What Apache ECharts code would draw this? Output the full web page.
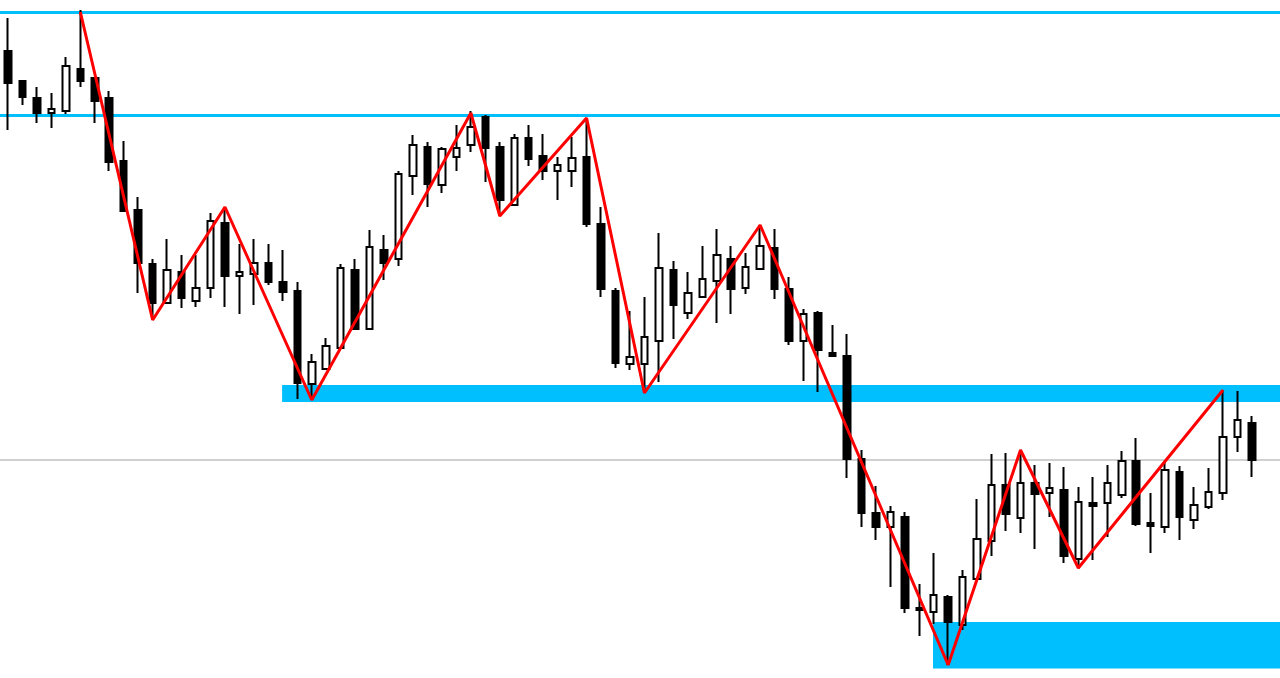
<!DOCTYPE html>
<html>
<head>
<meta charset="utf-8">
<script src="https://cdn.jsdelivr.net/npm/echarts@6/dist/echarts.min.js"></script>
<style>html,body{margin:0;padding:0;background:#fff;}#chart{width:1280px;height:678px;}</style>
</head>
<body>
<div id="chart"></div>
<script>
// Candle values (price units), one entry per bar
const openP  = [627,597,580,565,567,609,600,580,517,468,414,375,406,377,390,455,402,404,415,396,387,294,309,330,408,349,428,419,502,531,493,521,533,561,531,473,540,522,507,507,521,454,387,314,314,337,408,365,381,397,419,390,409,430,389,337,365,325,322,219,165,151,161,70,66,81,53,99,137,193,160,195,185,188,119,175,175,183,217,155,151,206,158,171,185,241,255];
const closeP = [595,581,565,569,612,597,577,516,467,415,375,408,380,390,457,402,406,415,396,386,295,316,332,410,349,431,415,504,533,494,529,530,551,530,478,540,519,507,513,520,454,389,315,321,341,410,373,385,399,423,389,411,432,389,337,364,328,322,219,165,151,166,70,68,83,56,101,139,193,164,195,184,190,122,176,172,195,217,154,152,208,161,173,186,241,258,218];
const lowP   = [548,573,555,550,564,591,555,507,467,385,358,375,370,371,380,371,364,373,393,377,279,278,309,330,349,349,398,412,483,471,485,507,526,496,465,473,512,498,478,491,451,381,310,308,286,296,339,359,381,355,364,384,409,379,333,297,286,321,200,151,138,91,65,42,54,13,48,99,122,147,145,129,161,115,111,118,141,180,152,125,145,138,149,169,178,226,201];
const highP  = [660,597,591,585,621,668,600,587,537,481,419,439,423,423,465,468,434,439,434,428,396,324,340,414,419,448,443,507,543,536,531,553,567,563,536,544,553,544,521,541,560,471,390,367,381,445,417,406,432,449,432,425,453,449,401,369,367,353,344,228,192,172,166,94,125,83,108,179,224,225,228,213,215,211,191,201,213,227,240,185,215,212,191,210,288,287,262];

// Zigzag swing points: [bar index, price]
const zigIndex = [5,10,15,21,32,34,40,44,52,65,70,74,84];
const zigPrice = [666,358,471,278,565,462,560,285,453,13,228,110,288];

// Horizontal levels and zones (price units)
const resistanceLevels = [665.5, 562.5];
const midLevel = 218.5;
const zones = [
  {start: 18.95, top: 293, bottom: 276},
  {start: 63.95, top: 56, bottom: 9.5}
];

const X_MIN = -0.553, X_MAX = 87.94;

const candleData = openP.map((o, i) => [i, o, closeP[i], lowP[i], highP[i]]);
const zigData = zigIndex.map((x, i) => [x, zigPrice[i]]);

const chart = echarts.init(document.getElementById('chart'));
chart.setOption({
  animation: false,
  backgroundColor: '#ffffff',
  grid: {left: 0, right: 0, top: 0, bottom: 0},
  xAxis: {type: 'value', min: X_MIN, max: X_MAX, show: false},
  yAxis: {type: 'value', min: 0, max: 678, show: false},
  series: [
    {
      type: 'candlestick',
      z: 2,
      data: candleData,
      encode: {x: 0, y: [1, 2, 3, 4]},
      barWidth: 7,
      itemStyle: {
        color: '#ffffff', color0: '#000000',
        borderColor: '#000000', borderColor0: '#000000',
        borderWidth: 2
      },
      markArea: {
        silent: true,
        z: 1,
        itemStyle: {color: '#00BFFF', opacity: 1},
        data: zones.map(z => [{xAxis: z.start, yAxis: z.top}, {xAxis: X_MAX, yAxis: z.bottom}])
      },
      markLine: {
        silent: true,
        z: 1,
        symbol: ['none', 'none'],
        label: {show: false},
        data: resistanceLevels.map(v => ({yAxis: v, lineStyle: {color: '#00BFFF', width: 3, type: 'solid'}}))
          .concat([{yAxis: midLevel, lineStyle: {color: '#C0C0C0', width: 1.5, type: 'solid'}}])
      }
    },
    {
      type: 'line',
      z: 5,
      data: zigData,
      showSymbol: false,
      symbol: 'none',
      lineStyle: {color: '#FF0000', width: 3}
    }
  ]
});
</script>
</body>
</html>
